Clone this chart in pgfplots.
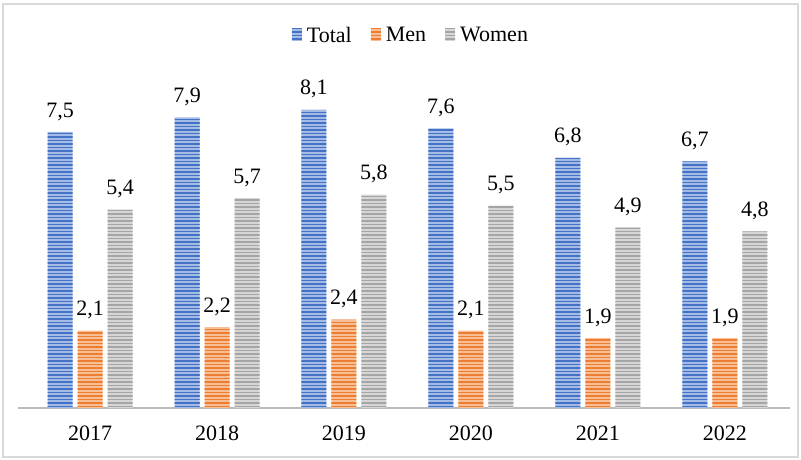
\documentclass[border=0pt]{standalone}
\usepackage{fontspec}
\setmainfont{Liberation Serif}
\usepackage{pgfplots}
\pgfplotsset{compat=1.18}
\usetikzlibrary{patterns}
\pgfdeclarepatternformonly{hstripes}{\pgfpoint{-2pt}{-0.1pt}}{\pgfpoint{202pt}{3.6pt}}{\pgfpoint{200pt}{3.5pt}}{%
  \pgfpathrectangle{\pgfpoint{-2pt}{0pt}}{\pgfpoint{204pt}{1.7pt}}\pgfusepath{fill}}
\definecolor{cblue}{HTML}{4472C4}
\definecolor{cblueL}{HTML}{A4BBE6}
\definecolor{corange}{HTML}{ED7D31}
\definecolor{corangeL}{HTML}{F8BE95}
\definecolor{cgray}{HTML}{A5A5A5}
\definecolor{cgrayL}{HTML}{D6D6D6}
\definecolor{frame}{HTML}{D9D9D9}
\tikzset{
  barT/.style={fill=cblueL, draw=none, postaction={pattern=hstripes, pattern color=cblue}},
  barM/.style={fill=corangeL, draw=none, postaction={pattern=hstripes, pattern color=corange}},
  barW/.style={fill=cgrayL, draw=none, postaction={pattern=hstripes, pattern color=cgray}},
}
\begin{document}
\begin{tikzpicture}[x=1pt,y=1pt]
\useasboundingbox (0,0) rectangle (801,460);
\fill[white] (0,0) rectangle (801,460);
\draw[frame, line width=1.2pt] (3,3) rectangle (798,456);
\begin{axis}[
  at={(18pt,52pt)}, anchor=south west,
  scale only axis,
  width=772pt, height=368pt,
  ymin=0, ymax=10,
  xmin=-0.567, xmax=5.512,
  ybar, bar width=25pt,
  axis y line=none,
  axis x line*=bottom,
  x axis line style={draw=cgray!75, line width=2pt},
  xtick={0,1,2,3,4,5},
  xticklabels={2017,2018,2019,2020,2021,2022},
  major tick length=0pt,
  xticklabel style={font=\fontsize{22}{26}\selectfont, yshift=-14pt},
  nodes near coords,
  nodes near coords style={font=\fontsize{22}{26}\selectfont, black, yshift=8pt},
  every node near coord/.append style={/pgf/number format/.cd, use comma, fixed, fixed zerofill, precision=1, assume math mode=true},
  legend style={at={(0.509,1.013)}, anchor=center, draw=none, fill=none,
    legend columns=3, font=\fontsize{22}{26}\selectfont,
    /tikz/every even column/.append style={column sep=17pt}},
  legend cell align=left,
  legend image code/.code={\path[#1] (0pt,-6pt) rectangle (10pt,7pt); \path (0pt,0pt) (13pt,0pt);},
]
\addplot[barT, bar shift=-30pt] coordinates {(0,7.5) (1,7.9) (2,8.1) (3,7.6) (4,6.8) (5,6.7)};
\addplot[barM, bar shift=0pt] coordinates {(0,2.1) (1,2.2) (2,2.4) (3,2.1) (4,1.9) (5,1.9)};
\addplot[barW, bar shift=30pt] coordinates {(0,5.4) (1,5.7) (2,5.8) (3,5.5) (4,4.9) (5,4.8)};
\legend{Total,Men,Women}
\end{axis}
\end{tikzpicture}
\end{document}
